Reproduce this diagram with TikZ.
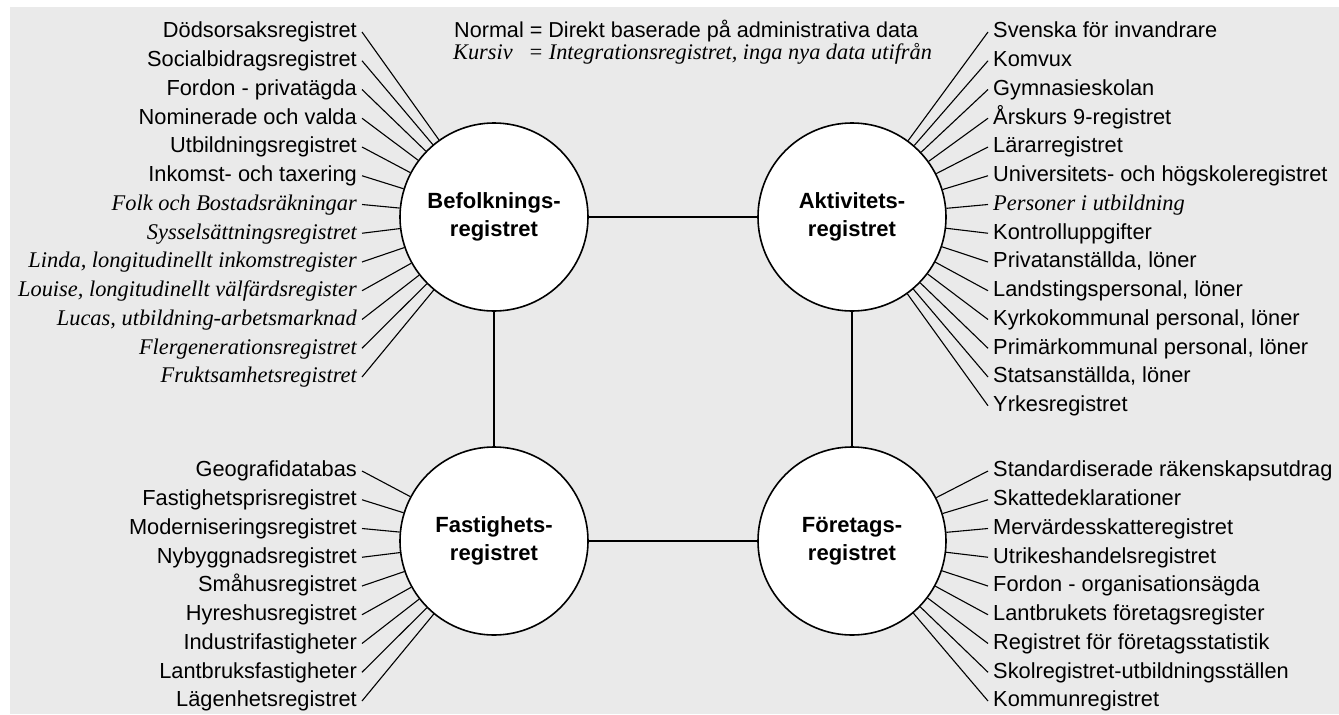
\documentclass[tikz,border=0pt]{standalone}
\usepackage{fontspec}
\setmainfont{Liberation Sans}
\newfontfamily\timesfam{Liberation Serif}
\usepackage{xcolor}
\usepackage{tikz}
\definecolor{panelgray}{HTML}{EAEAEA}
\newcommand\admfont{\fontsize{21.8}{27}\selectfont}
\newcommand\kurfont{\fontsize{22.4}{27}\selectfont\timesfam\itshape}
\tikzset{
  regcircle/.style={circle,draw,line width=1.6pt,fill=white,minimum size=188pt,
    inner sep=0pt,align=center,font=\fontsize{22}{28}\selectfont\bfseries},
  srcleft/.style={anchor=east,inner sep=5pt,text height=16pt,text depth=4.5pt,font=\admfont},
  srcright/.style={anchor=west,inner sep=5pt,text height=16pt,text depth=4.5pt,font=\admfont},
  feedline/.style={line width=1.1pt},
  linkline/.style={line width=1.3pt}
}

\begin{document}
\begin{tikzpicture}[x=1pt,y=-1pt]
  \useasboundingbox (0,0) rectangle (1339,715);
  \fill[panelgray] (10,7) rectangle (1339,714);
  \node[regcircle] (befreg) at (494,217) {Befolknings-\\registret};
  \node[regcircle] (aktreg) at (852,217) {Aktivitets-\\registret};
  \node[regcircle] (fastreg) at (494,541) {Fastighets-\\registret};
  \node[regcircle] (foreg) at (852,541) {Företags-\\registret};
  \draw[linkline] (befreg) -- (aktreg);
  \draw[linkline] (befreg) -- (fastreg);
  \draw[linkline] (aktreg) -- (foreg);
  \draw[linkline] (fastreg) -- (foreg);
  % teckenförklaring
  \node[anchor=base west,inner sep=0pt,font=\fontsize{21.6}{26}\selectfont] (legnorm) at (454,37)
    {Normal = Direkt baserade på administrativa data};
  \node[anchor=base west,inner sep=0pt,font=\fontsize{22.3}{26}\selectfont\timesfam\itshape] (legkurs) at (453,59)
    {Kursiv\hspace{0.7em}= Integrationsregistret, inga nya data utifrån};
  % befolkning
  \foreach \txt/\fnt [count=\i] in {Dödsorsaksregistret/\admfont, Socialbidragsregistret/\admfont,
      Fordon - privatägda/\admfont, Nominerade och valda/\admfont, Utbildningsregistret/\admfont,
      Inkomst- och taxering/\admfont, Folk och Bostadsräkningar/\kurfont,
      Sysselsättningsregistret/\kurfont, {Linda, longitudinellt inkomstregister}/\kurfont,
      {Louise, longitudinellt välfärdsregister}/\kurfont, {Lucas, utbildning-arbetsmarknad}/\kurfont,
      Flergenerationsregistret/\kurfont, Fruktsamhetsregistret/\kurfont}{
    \node[srcleft,font=\fnt] (bl\i) at (362,{3.25+28.75*\i}) {\txt};
    \draw[feedline] (bl\i.east) -- (befreg);
  }
  % aktivitet
  \foreach \txt/\fnt [count=\i] in {Svenska för invandrare/\admfont, Komvux/\admfont,
      Gymnasieskolan/\admfont, Årskurs 9-registret/\admfont, Lärarregistret/\admfont,
      Universitets- och högskoleregistret/\admfont, Personer i utbildning/\kurfont,
      Kontrolluppgifter/\admfont, {Privatanställda, löner}/\admfont,
      {Landstingspersonal, löner}/\admfont, {Kyrkokommunal personal, löner}/\admfont,
      {Primärkommunal personal, löner}/\admfont, {Statsanställda, löner}/\admfont,
      Yrkesregistret/\admfont}{
    \node[srcright,font=\fnt] (ar\i) at (988,{3.25+28.75*\i}) {\txt};
    \draw[feedline] (ar\i.west) -- (aktreg);
  }
  % fastigheter
  \foreach \txt [count=\i] in {Geografidatabas, Fastighetsprisregistret, Moderniseringsregistret,
      Nybyggnadsregistret, Småhusregistret, Hyreshusregistret, Industrifastigheter,
      Lantbruksfastigheter, Lägenhetsregistret}{
    \node[srcleft] (fl\i) at (362,{442.25+28.75*\i}) {\txt};
    \draw[feedline] (fl\i.east) -- (fastreg);
  }
  % företag
  \foreach \txt [count=\i] in {Standardiserade räkenskapsutdrag, Skattedeklarationer,
      Mervärdesskatteregistret, Utrikeshandelsregistret, Fordon - organisationsägda,
      Lantbrukets företagsregister, Registret för företagsstatistik,
      Skolregistret-utbildningsställen, Kommunregistret}{
    \node[srcright] (fr\i) at (988,{442.25+28.75*\i}) {\txt};
    \draw[feedline] (fr\i.west) -- (foreg);
  }
\end{tikzpicture}
\end{document}
